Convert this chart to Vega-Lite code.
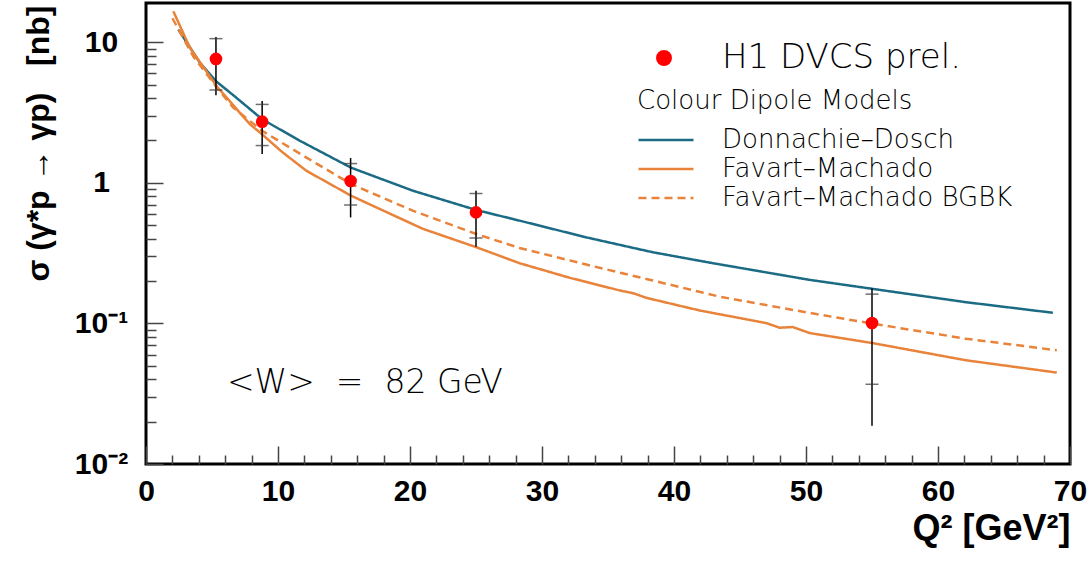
{
  "$schema": "https://vega.github.io/schema/vega-lite/v6.json",
  "autosize": {"type": "none"},
  "padding": {"left": 146, "top": 3, "right": 21, "bottom": 103},
  "width": 924,
  "height": 461,
  "background": "#ffffff",
  "datasets": {
    "curves": [
      {"model": "Donnachie–Dosch", "q2": 2.45, "sigma": 12.3},
      {"model": "Donnachie–Dosch", "q2": 4.09, "sigma": 7.13},
      {"model": "Donnachie–Dosch", "q2": 5.3, "sigma": 5.28},
      {"model": "Donnachie–Dosch", "q2": 6.61, "sigma": 4.2},
      {"model": "Donnachie–Dosch", "q2": 8.8, "sigma": 2.83},
      {"model": "Donnachie–Dosch", "q2": 11.66, "sigma": 1.99},
      {"model": "Donnachie–Dosch", "q2": 15.54, "sigma": 1.28},
      {"model": "Donnachie–Dosch", "q2": 20.24, "sigma": 0.877},
      {"model": "Donnachie–Dosch", "q2": 25.03, "sigma": 0.64},
      {"model": "Donnachie–Dosch", "q2": 28.3, "sigma": 0.538},
      {"model": "Donnachie–Dosch", "q2": 33.36, "sigma": 0.409},
      {"model": "Donnachie–Dosch", "q2": 38.4, "sigma": 0.3205},
      {"model": "Donnachie–Dosch", "q2": 42.95, "sigma": 0.268},
      {"model": "Donnachie–Dosch", "q2": 50.27, "sigma": 0.204},
      {"model": "Donnachie–Dosch", "q2": 55.06, "sigma": 0.176},
      {"model": "Donnachie–Dosch", "q2": 62.1, "sigma": 0.1416},
      {"model": "Donnachie–Dosch", "q2": 68.7, "sigma": 0.119},
      {"model": "Favart–Machado", "q2": 2.07, "sigma": 16.6},
      {"model": "Favart–Machado", "q2": 3.33, "sigma": 9.12},
      {"model": "Favart–Machado", "q2": 5.35, "sigma": 4.87},
      {"model": "Favart–Machado", "q2": 7.87, "sigma": 2.61},
      {"model": "Favart–Machado", "q2": 8.8, "sigma": 2.21},
      {"model": "Favart–Machado", "q2": 10.3, "sigma": 1.66},
      {"model": "Favart–Machado", "q2": 12.16, "sigma": 1.216},
      {"model": "Favart–Machado", "q2": 15.54, "sigma": 0.809},
      {"model": "Favart–Machado", "q2": 17.71, "sigma": 0.651},
      {"model": "Favart–Machado", "q2": 20.99, "sigma": 0.47},
      {"model": "Favart–Machado", "q2": 25.03, "sigma": 0.348},
      {"model": "Favart–Machado", "q2": 28.3, "sigma": 0.268},
      {"model": "Favart–Machado", "q2": 32.1, "sigma": 0.211},
      {"model": "Favart–Machado", "q2": 35.9, "sigma": 0.1714},
      {"model": "Favart–Machado", "q2": 36.9, "sigma": 0.164},
      {"model": "Favart–Machado", "q2": 37.9, "sigma": 0.152},
      {"model": "Favart–Machado", "q2": 41.94, "sigma": 0.1236},
      {"model": "Favart–Machado", "q2": 46.99, "sigma": 0.1005},
      {"model": "Favart–Machado", "q2": 48.0, "sigma": 0.0932},
      {"model": "Favart–Machado", "q2": 49.0, "sigma": 0.0942},
      {"model": "Favart–Machado", "q2": 50.27, "sigma": 0.0854},
      {"model": "Favart–Machado", "q2": 55.06, "sigma": 0.0724},
      {"model": "Favart–Machado", "q2": 62.1, "sigma": 0.0547},
      {"model": "Favart–Machado", "q2": 69.0, "sigma": 0.0447},
      {"model": "Favart–Machado BGBK", "q2": 2.0, "sigma": 14.8},
      {"model": "Favart–Machado BGBK", "q2": 3.58, "sigma": 7.94},
      {"model": "Favart–Machado BGBK", "q2": 5.35, "sigma": 4.78},
      {"model": "Favart–Machado BGBK", "q2": 6.61, "sigma": 3.42},
      {"model": "Favart–Machado BGBK", "q2": 8.8, "sigma": 2.34},
      {"model": "Favart–Machado BGBK", "q2": 12.16, "sigma": 1.51},
      {"model": "Favart–Machado BGBK", "q2": 15.54, "sigma": 0.979},
      {"model": "Favart–Machado BGBK", "q2": 20.24, "sigma": 0.632},
      {"model": "Favart–Machado BGBK", "q2": 25.03, "sigma": 0.432},
      {"model": "Favart–Machado BGBK", "q2": 28.3, "sigma": 0.344},
      {"model": "Favart–Machado BGBK", "q2": 33.36, "sigma": 0.262},
      {"model": "Favart–Machado BGBK", "q2": 38.4, "sigma": 0.2017},
      {"model": "Favart–Machado BGBK", "q2": 43.45, "sigma": 0.155},
      {"model": "Favart–Machado BGBK", "q2": 50.0, "sigma": 0.12},
      {"model": "Favart–Machado BGBK", "q2": 55.06, "sigma": 0.0995},
      {"model": "Favart–Machado BGBK", "q2": 62.1, "sigma": 0.0779},
      {"model": "Favart–Machado BGBK", "q2": 69.0, "sigma": 0.0644}
    ],
    "pts": [
      {"series": "H1 DVCS prel.", "q2": 5.3, "sigma": 7.6, "stat_lo": 4.57, "stat_hi": 10.6, "tot_lo": 4.2, "tot_hi": 10.9},
      {"series": "H1 DVCS prel.", "q2": 8.8, "sigma": 2.72, "stat_lo": 1.84, "stat_hi": 3.61, "tot_lo": 1.6, "tot_hi": 3.82},
      {"series": "H1 DVCS prel.", "q2": 15.5, "sigma": 1.03, "stat_lo": 0.695, "stat_hi": 1.37, "tot_lo": 0.567, "tot_hi": 1.5},
      {"series": "H1 DVCS prel.", "q2": 25.0, "sigma": 0.616, "stat_lo": 0.405, "stat_hi": 0.839, "tot_lo": 0.351, "tot_hi": 0.878},
      {"series": "H1 DVCS prel.", "q2": 55.0, "sigma": 0.1005, "stat_lo": 0.0369, "stat_hi": 0.1615, "tot_lo": 0.0187, "tot_hi": 0.178}
    ]
  },
  "layer": [
    {
      "data": {"name": "curves"},
      "mark": {"type": "line", "strokeWidth": 2.5, "clip": true},
      "encoding": {
        "x": {
          "field": "q2", "type": "quantitative",
          "scale": {"domain": [0, 70], "nice": false, "zero": false},
          "axis": {
            "values": [0, 2, 4, 6, 8, 10, 12, 14, 16, 18, 20, 22, 24, 26, 28, 30, 32, 34, 36, 38, 40, 42, 44, 46, 48, 50, 52, 54, 56, 58, 60, 62, 64, 66, 68, 70],
            "tickCount": 1000,
            "labelExpr": "datum.value % 10 == 0 ? format(datum.value, 'd') : ''",
            "tickSize": {"condition": {"test": "datum.value % 10 == 0", "value": -18}, "value": -9},
            "labelPadding": 30,
            "labelFlush": false,
            "labelOverlap": false,
            "title": "Q²\u00a0[GeV²]",
            "titleFontSize": 36,
            "titleAnchor": "end",
            "titleAlign": "right",
            "titleX": 924,
            "titleY": 75,
            "titleBaseline": "alphabetic"
          }
        },
        "y": {
          "field": "sigma", "type": "quantitative",
          "scale": {"type": "log", "domain": [0.01, 19], "nice": false},
          "axis": {
            "values": [0.01, 0.02, 0.03, 0.04, 0.05, 0.06, 0.07, 0.08, 0.09, 0.1, 0.2, 0.3, 0.4, 0.5, 0.6, 0.7, 0.8, 0.9, 1, 2, 3, 4, 5, 6, 7, 8, 9, 10],
            "tickCount": 1000,
            "labelExpr": "datum.value == 10 ? '10' : datum.value == 1 ? '1' : datum.value == 0.1 ? '10⁻¹' : datum.value == 0.01 ? '10⁻²' : ''",
            "tickSize": {"condition": {"test": "datum.value == 10 || datum.value == 1 || datum.value == 0.1 || datum.value == 0.01", "value": -17}, "value": -10},
            "labelPadding": 62,
            "labelAlign": "center",
            "labelBaseline": "middle",
            "labelOverlap": false,
            "labelFlush": false,
            "title": "σ\u00a0(γ*p\u00a0→\u00a0γp)\u00a0\u00a0\u00a0[nb]",
            "titleFontSize": 32,
            "titleAngle": -90,
            "titleAlign": "right",
            "titleBaseline": "middle",
            "titleX": -108,
            "titleY": 2,
            "titleLimit": 0
          }
        },
        "stroke": {
          "field": "model", "type": "nominal",
          "scale": {"domain": ["Donnachie–Dosch", "Favart–Machado", "Favart–Machado BGBK"], "range": ["#1b6b85", "#e9833a", "#e9833a"]},
          "legend": {
            "title": "Colour Dipole Models",
            "orient": "none",
            "legendX": 491,
            "legendY": 85,
            "symbolType": "M-1,0H3.4",
            "symbolSize": 625,
            "symbolStrokeWidth": 2.5,
            "labelFont": "DejaVu Sans",
            "labelFontWeight": 200,
            "labelFontSize": 26,
            "labelColor": "#000",
            "labelOffset": 57,
            "labelLimit": 0,
            "titleFont": "DejaVu Sans",
            "titleFontWeight": 200,
            "titleFontSize": 26,
            "titleColor": "#000",
            "titleLimit": 0,
            "titlePadding": 12,
            "rowPadding": 2,
            "padding": 0
          }
        },
        "strokeDash": {
          "field": "model", "type": "nominal",
          "scale": {"domain": ["Donnachie–Dosch", "Favart–Machado", "Favart–Machado BGBK"], "range": [[1, 0], [1, 0], [8, 5]]},
          "legend": {
            "title": "Colour Dipole Models"
          }
        }
      }
    },
    {
      "data": {"name": "pts"},
      "mark": {"type": "rule", "color": "#000", "strokeWidth": 1.5},
      "encoding": {
        "x": {"field": "q2", "type": "quantitative"},
        "y": {"field": "tot_lo", "type": "quantitative"},
        "y2": {"field": "tot_hi"}
      }
    },
    {
      "data": {"name": "pts"},
      "mark": {"type": "tick", "orient": "horizontal", "color": "#333", "size": 13, "thickness": 1.5},
      "encoding": {
        "x": {"field": "q2", "type": "quantitative"},
        "y": {"field": "stat_lo", "type": "quantitative"}
      }
    },
    {
      "data": {"name": "pts"},
      "mark": {"type": "tick", "orient": "horizontal", "color": "#333", "size": 13, "thickness": 1.5},
      "encoding": {
        "x": {"field": "q2", "type": "quantitative"},
        "y": {"field": "stat_hi", "type": "quantitative"}
      }
    },
    {
      "data": {"name": "pts"},
      "mark": {"type": "circle", "size": 160, "opacity": 1},
      "encoding": {
        "x": {"field": "q2", "type": "quantitative"},
        "y": {"field": "sigma", "type": "quantitative"},
        "fill": {
          "field": "series", "type": "nominal",
          "scale": {"domain": ["H1 DVCS prel."], "range": ["#ff0000"]},
          "legend": {
            "title": null,
            "orient": "none",
            "legendX": 501,
            "legendY": 38,
            "symbolType": "circle",
            "symbolSize": 254,
            "symbolStrokeWidth": 0,
            "labelFont": "DejaVu Sans",
            "labelFontWeight": 200,
            "labelFontSize": 34,
            "labelColor": "#000",
            "labelOffset": 41,
            "labelLimit": 0,
            "padding": 0
          }
        }
      }
    },
    {
      "data": {"values": [{"q2": 6.13, "sigma": 0.0375, "t": "<W>\u00a0\u00a0=\u00a0\u00a082\u00a0GeV"}]},
      "mark": {"type": "text", "align": "left", "baseline": "middle", "font": "DejaVu Sans", "fontWeight": 200, "fontSize": 33, "color": "#000"},
      "encoding": {
        "x": {"field": "q2", "type": "quantitative"},
        "y": {"field": "sigma", "type": "quantitative"},
        "text": {"field": "t"}
      }
    }
  ],
  "config": {
    "view": {"stroke": "#000", "strokeWidth": 3},
    "axis": {
      "domain": false,
      "grid": false,
      "labelFont": "Liberation Sans",
      "labelFontWeight": "bold",
      "labelFontSize": 30,
      "labelColor": "#000",
      "tickColor": "#444",
      "tickWidth": 1.5,
      "titleFont": "Liberation Sans",
      "titleFontWeight": "bold",
      "titleFontSize": 30,
      "titleColor": "#000"
    }
  }
}
